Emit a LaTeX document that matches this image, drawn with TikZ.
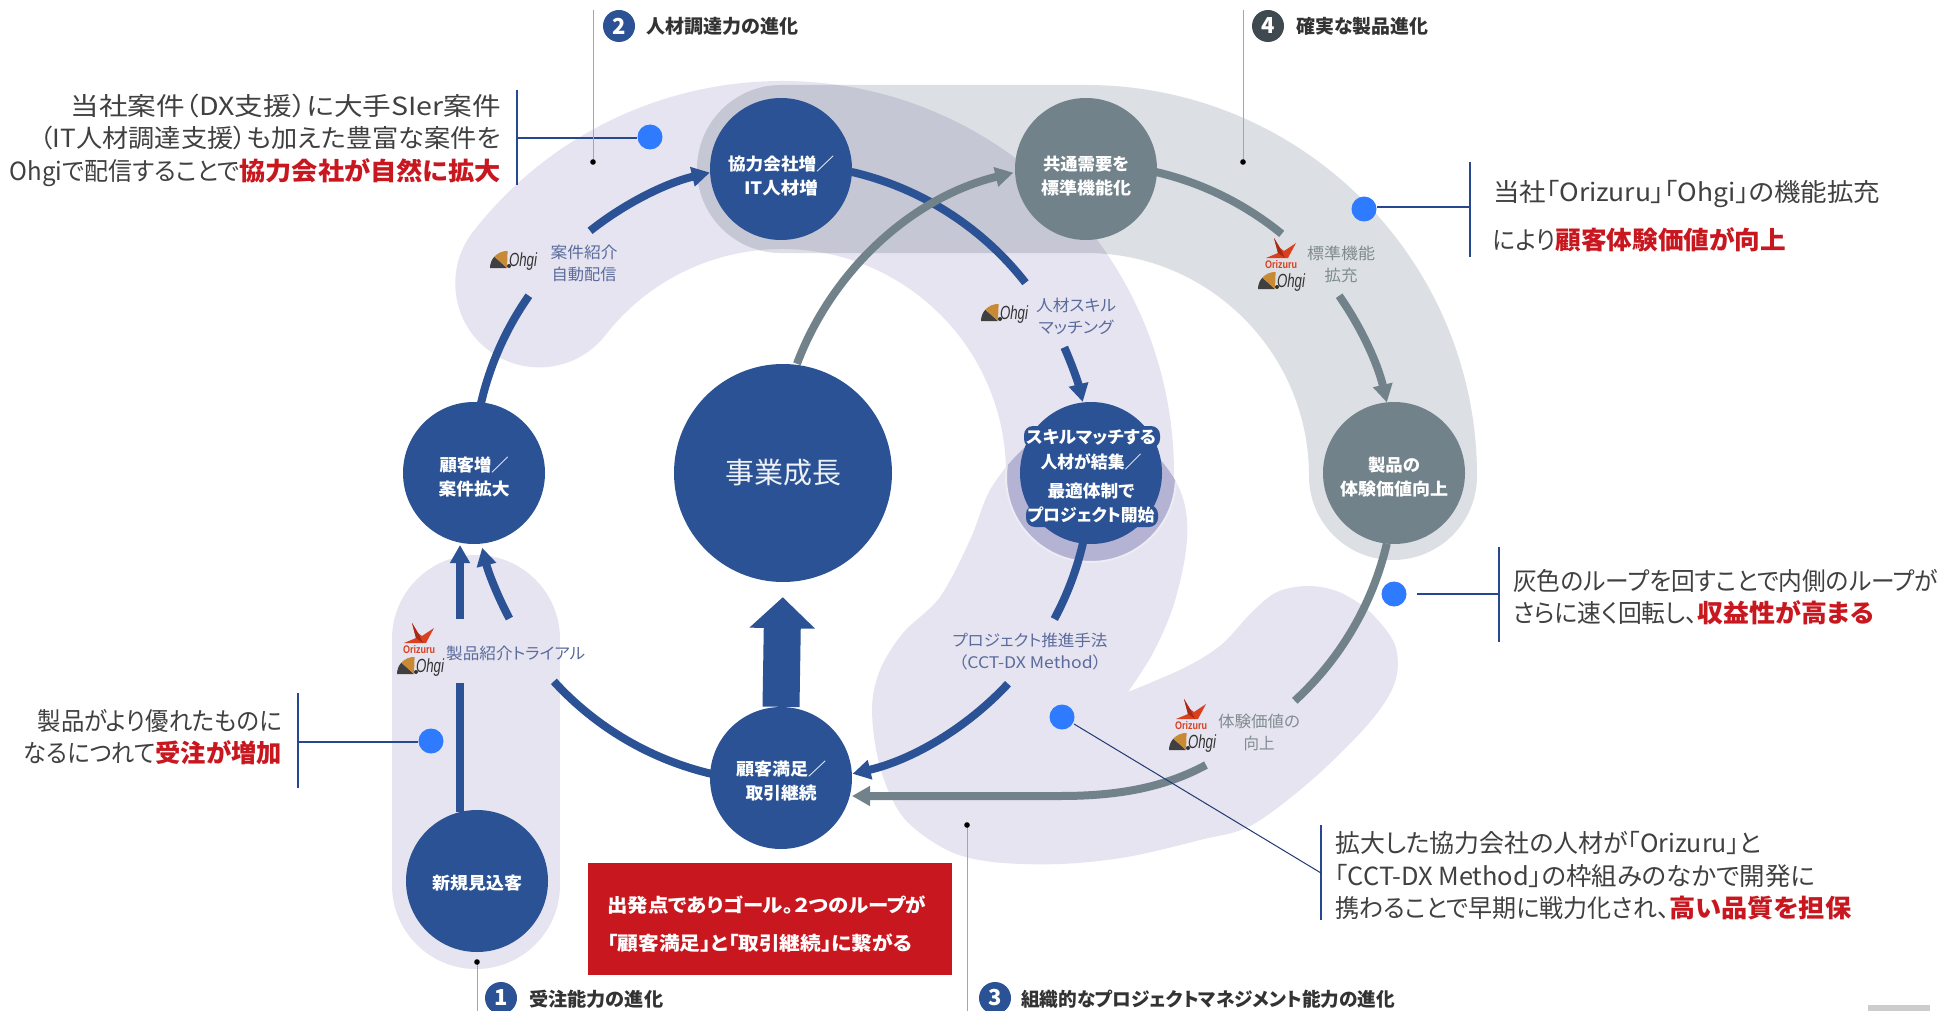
\documentclass[tikz,border=0pt]{standalone}
\usepackage{fontspec}
\usepackage{graphicx}
\usetikzlibrary{arrows.meta,calc}
\setmainfont[RawFeature=+palt]{Noto Sans CJK JP}
\newfontfamily\logofont{Liberation Sans}
\definecolor{navyc}{HTML}{2A5294}
\definecolor{grayc}{HTML}{72828A}
\definecolor{bandp}{HTML}{E6E4F0}
\definecolor{bandg}{HTML}{DCDFE3}
\definecolor{haloc}{HTML}{B5B3D4}
\definecolor{dotc}{HTML}{2E7BFF}
\definecolor{leadc}{HTML}{27488F}
\definecolor{redc}{HTML}{C8171E}
\definecolor{txtc}{HTML}{404040}
\definecolor{lblb}{HTML}{5A6B9C}
\definecolor{lblg}{HTML}{808C90}
\definecolor{dark4}{HTML}{3F4A50}
\definecolor{cranec}{HTML}{D8401E}
\definecolor{craned}{HTML}{A82A16}
\definecolor{fanc}{HTML}{C98A35}
\newcommand\fit[2]{\resizebox{#1pt}{\height}{#2}}
\newcommand\pad[1]{\rule{0pt}{#1pt}}
\newcommand\rd[1]{\scalebox{1.09}[1]{\textcolor{redc}{\bfseries #1}}}
\newcommand\bandthree{plot[smooth,tension=0.55] coordinates {(1128,692) (1153,653) (1173,607) (1185,557) (1187,520) (1180,490) (1163,463) (1135,435) (1095,421) (1055,427) (1020,452) (990,490) (970,540) (940,597) (903,633) (880,670) (872,710) (880,767) (903,817) (947,850) (993,862) (1060,864) (1127,857) (1200,840) (1252,825) (1314,778) (1370,722) (1395,682) (1395,645) (1370,612) (1339,592) (1308,586) (1277,592) (1252,612) (1221,645) (1184,668) (1128,692)}}
\newcommand\ohgi[3]{\begin{scope}[shift={(#2,#3)}]
  \fill[black!75] (-7,6) -- (-24,6) arc[start angle=180,end angle=222,radius=17] -- cycle;
  \fill[fanc] (-7,6) -- ($(-7,6)+(222:17)$) arc[start angle=222,end angle=272,radius=17] -- cycle;
  \fill[black!80] (-5,4) circle (2);
  \node[inner sep=0pt,text=black!80] (#1) at (9,0) {\fit{28}{\fontsize{19}{19}\logofont\itshape Ohgi}};
\end{scope}}
\newcommand\orizuru[3]{\begin{scope}[shift={(#2,#3)}]
  \fill[cranec] (-7,-16) -- (-1,-6) -- (3,-3) -- (15,-11) -- (7,4) -- (-15,4) -- (-3,-1) -- cycle;
  \fill[craned] (-7,-16) -- (-1,-6) -- (4,4) -- (-3,-1) -- cycle;
  \node[inner sep=0pt,text=cranec] (#1) at (0,11) {\fit{32}{\fontsize{11}{11}\logofont\bfseries Orizuru}};
\end{scope}}
\tikzset{
  nodecirc/.style={circle,inner sep=0pt,minimum size=142pt,text=white,align=center,font=\fontsize{17}{24}\selectfont\bfseries},
  bluenode/.style={nodecirc,fill=navyc},
  graynode/.style={nodecirc,fill=grayc},
  band/.style={line cap=round,line width=168pt,blend mode=multiply},
  loopblue/.style={draw=navyc,line width=8pt},
  loopgray/.style={draw=grayc,line width=8pt},
  tip/.style={-{Triangle[width=19pt,length=18pt]}},
  bullet/.style={circle,fill=dotc,inner sep=0pt,minimum size=25pt},
  leader/.style={draw=leadc,line width=1.3pt},
  callout/.style={inner sep=0pt,text=txtc},
  small/.style={inner sep=0pt,align=center,font=\fontsize{16}{22}\selectfont},
  numc/.style={circle,inner sep=0pt,minimum size=32pt,text=white,font=\fontsize{22}{22}\selectfont\bfseries},
  sect/.style={inner sep=0pt,anchor=west,text=black!80,font=\fontsize{19}{19}\selectfont\bfseries},
  thin/.style={draw=black!35,line width=1pt},
}
\begin{document}
\begin{tikzpicture}[x=1pt,y=1pt,yscale=-1]
\useasboundingbox (0,0) rectangle (1946,1011);
\fill[white] (0,0) rectangle (1946,1011);
\coordinate (C) at (782,473);
\coordinate (G) at (1086,473);
% bands
\fill[bandp,blend mode=multiply] \bandthree -- cycle;
\draw[band,bandp] (476,639) -- (476,885);
\draw[band,bandp] ($(C)+(218:308)$) arc[start angle=218,end angle=360,radius=308];
\draw[band,bandg] (781,169) -- (1086,169) arc[start angle=270,end angle=360,radius=307];
\begin{scope}
  \clip \bandthree -- cycle;
  \fill[haloc,draw=white!75!haloc,line width=2pt] (1091,477) circle (85);
\end{scope}
% leader lines
\coordinate (v1a) at (517,90); \coordinate (v1b) at (517,185); \coordinate (h1) at (517,138);
\coordinate (v2a) at (1470,162); \coordinate (v2b) at (1470,257); \coordinate (h2) at (1470,207);
\coordinate (v3a) at (298,693); \coordinate (v3b) at (298,788); \coordinate (h3) at (298,742);
\coordinate (v4a) at (1499,547); \coordinate (v4b) at (1499,642); \coordinate (h4) at (1499,594); \coordinate (h4s) at (1417,594);
\coordinate (v5a) at (1321,825); \coordinate (v5b) at (1321,920); \coordinate (h5) at (1321,873);
\node[bullet] (d1) at (650,137) {};
\node[bullet] (d2) at (1364,209) {};
\node[bullet] (d3) at (431,741) {};
\node[bullet] (d4) at (1394,594) {};
\node[bullet] (d5) at (1062,717) {};
\draw[leader] (v1a) -- (v1b); \draw[leader] (h1) -- (h1 -| d1.west);
\draw[leader] (v2a) -- (v2b); \draw[leader] (h2) -- (h2 -| d2.east);
\draw[leader] (v3a) -- (v3b); \draw[leader] (h3) -- (h3 -| d3.west);
\draw[leader] (v4a) -- (v4b); \draw[leader] (h4s) -- (h4);
\draw[leader] (v5a) -- (v5b);
% text halo behind long lines of the skill node
\fill[navyc,rounded corners=9pt] (1024,426) rectangle (1160,448);
\fill[navyc,rounded corners=9pt] (1026,505) rectangle (1158,527);
% blue loop
\draw[loopblue] ($(C)+(193:309)$) arc[start angle=193,end angle=215,radius=309];
\draw[loopblue,tip] ($(C)+(231.6:309)$) arc[start angle=231.6,end angle=256.5,radius=309];
\draw[loopblue] ($(C)+(283:309)$) arc[start angle=283,end angle=322,radius=309];
\draw[loopblue,tip] ($(C)+(336:309)$) arc[start angle=336,end angle=346.7,radius=309];
\draw[loopblue] ($(C)+(13:309)$) arc[start angle=13,end angle=28.2,radius=309];
\draw[loopblue,tip] ($(C)+(43:309)$) arc[start angle=43,end angle=76.8,radius=309];
\draw[loopblue] ($(C)+(103:309)$) arc[start angle=103,end angle=137.6,radius=309];
\draw[loopblue,tip] ($(C)+(151.9:309)$) arc[start angle=151.9,end angle=166,radius=309];
\coordinate (e1) at (460,812); \coordinate (e2) at (460,683); \coordinate (e3) at (460,619); \coordinate (e4) at (460,545);
\draw[loopblue] (e1) -- (e2);
\draw[loopblue,tip] (e3) -- (e4);
% gray loop
\draw[loopgray,tip] ($(G)+(200.7:309)$) arc[start angle=200.7,end angle=256.4,radius=309];
\draw[loopgray] ($(G)+(283:309)$) arc[start angle=283,end angle=309.3,radius=309];
\draw[loopgray,tip] ($(G)+(325:309)$) arc[start angle=325,end angle=346.8,radius=309];
\draw[loopgray] ($(G)+(13.2:309)$) arc[start angle=13.2,end angle=47.5,radius=309];
\coordinate (j1) at (1206,765); \coordinate (j2) at (1060,796); \coordinate (j3) at (852,796);
\draw[loopgray,tip] (j1) .. controls (1160,790) and (1110,796) .. (j2) -- (j3);
% nodes
\node[bluenode] (n1) at (781,169) {\pad{28}\fit{106}{協力会社増／}\\\fit{74}{IT人材増}};
\node[bluenode] (n2) at (474,473) {\pad{23}\fit{69}{顧客増／}\\\fit{71}{案件拡大}};
\node[graynode] (n3) at (1086,169) {\pad{28}\fit{86}{共通需要を}\\\fit{90}{標準機能化}};
\node[graynode] (n4) at (1394,473) {\pad{22}\fit{52}{製品の}\\\fit{108}{体験価値向上}};
\node[bluenode] (n5) at (1091,473) {\pad{21}\makebox[80pt]{\fit{130}{スキルマッチする}}\\[1pt]\makebox[80pt]{\fit{101}{人材が結集／}}\\[5pt]\makebox[80pt]{\fit{87}{最適体制で}}\\\makebox[80pt]{\fit{127}{プロジェクト開始}}};
\node[bluenode] (n6) at (781,778) {\pad{21}\fit{90}{顧客満足／}\\\fit{71}{取引継続}};
\node[bluenode] (n7) at (477,881) {\pad{19}\fit{90}{新規見込客}};
\node[bluenode,minimum size=218pt] (n0) at (783,473) {\fit{116}{\fontsize{29}{29}\selectfont\mdseries\textcolor{white!92!navyc}{事業成長}}};
\draw[navyc,line width=37pt,-{Triangle[width=64pt,length=31pt]},shorten >=15pt] (n6.north) -- (n0.south);
% small labels
\ohgi{og1}{514}{262}
\node[small,text=lblb] (l1) at (584,263) {\fit{67}{案件紹介}\\\fit{65}{自動配信}};
\ohgi{og2}{1005}{315}
\node[small,text=lblb] (l2) at (1076,316) {\fit{80}{人材スキル}\\\fit{75}{マッチング}};
\orizuru{oz3}{1281}{254}
\ohgi{og3}{1282}{283}
\node[small,text=lblg] (l3) at (1341,264) {\fit{68}{標準機能}\\\fit{33}{拡充}};
\orizuru{oz4}{419}{639}
\ohgi{og4}{421}{668}
\node[small,text=lblb,anchor=west] (l4) at (446,653) {\fit{139}{製品紹介トライアル}};
\node[small,text=lblb] (l5) at (1030,652) {\fit{155}{プロジェクト推進手法}\\\fit{143}{（CCT-DX Method）}};
\orizuru{oz6}{1191}{715}
\ohgi{og6}{1193}{744}
\node[small,text=lblg] (l6) at (1259,732) {\fit{82}{体験価値の}\\\fit{31}{向上}};
% callouts
\node[callout,anchor=east,align=right,font=\fontsize{25}{32.5}\selectfont] (c1) at (501,140) {\fit{430}{当社案件（DX支援）に大手SIer案件}\\\fit{461}{（IT人材調達支援）も加えた豊富な案件を}\\\fit{491}{Ohgiで配信することで\rd{協力会社が自然に拡大}}};
\node[callout,anchor=west,align=left,font=\fontsize{25}{48}\selectfont] (c2) at (1493,216) {\fit{387}{当社「Orizuru」「Ohgi」の機能拡充}\\\fit{293}{により\rd{顧客体験価値が向上}}};
\node[callout,anchor=east,align=right,font=\fontsize{25}{32.5}\selectfont] (c3) at (282,737) {\fit{244}{製品がより優れたものに}\\\fit{258}{なるにつれて\rd{受注が増加}}};
\node[callout,anchor=west,align=left,font=\fontsize{25}{32.5}\selectfont] (c4) at (1513,597) {\fit{425}{灰色のループを回すことで内側のループが}\\\fit{361}{さらに速く回転し、\rd{収益性が高まる}}};
\node[callout,anchor=west,align=left,font=\fontsize{25}{32.5}\selectfont] (c5) at (1335,876) {\fit{426}{拡大した協力会社の人材が「Orizuru」と}\\\fit{480}{「CCT-DX Method」の枠組みのなかで開発に}\\\fit{516}{携わることで早期に戦力化され、\rd{高い品質を担保}}};
\draw[draw=leadc!80!black,line width=1pt] (1074,724) -- (h5);
% red box
\node[fill=redc,text=white,anchor=north west,minimum width=364pt,minimum height=112pt,inner xsep=19pt,inner ysep=0pt,text width=326pt,align=left,font=\fontsize{19}{38}\selectfont\bfseries] (rb) at (588,863) {\pad{26}\fit{319}{出発点でありゴール。２つのループが}\\\fit{305}{「顧客満足」と「取引継続」に繋がる}};
% section labels
\node[numc,fill=navyc] (s1) at (501,998) {1};
\node[sect] (t1) at (529,999) {\fit{134}{受注能力の進化}};
\node[numc,fill=navyc] (s2) at (619,26) {2};
\node[sect] (t2) at (646,26) {\fit{152}{人材調達力の進化}};
\node[numc,fill=navyc] (s3) at (995,998) {3};
\node[sect] (t3) at (1021,999) {\fit{374}{組織的なプロジェクトマネジメント能力の進化}};
\node[numc,fill=dark4] (s4) at (1268,26) {4};
\node[sect] (t4) at (1296,26) {\fit{132}{確実な製品進化}};
\coordinate (p1) at (477,962); \coordinate (q1) at (477,1011);
\coordinate (p2) at (593,162); \coordinate (q2) at (593,10);
\coordinate (p3) at (967,825); \coordinate (q3) at (967,1011);
\coordinate (p4) at (1243,162); \coordinate (q4) at (1243,10);
\draw[thin] (p1) -- (q1); \fill[black] (p1) circle (2.8);
\draw[thin] (p2) -- (q2); \fill[black] (p2) circle (2.8);
\draw[thin] (p3) -- (q3); \fill[black] (p3) circle (2.8);
\draw[thin] (p4) -- (q4); \fill[black] (p4) circle (2.8);
\fill[black!20] (1868,1005) rectangle (1930,1011);
\end{tikzpicture}
\end{document}
